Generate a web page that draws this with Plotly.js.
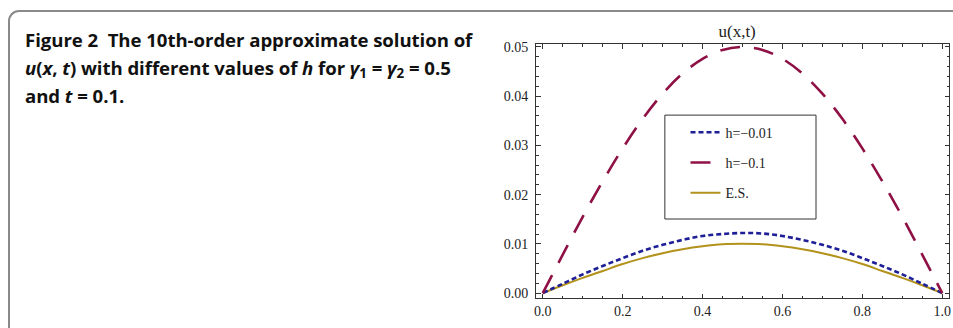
<!DOCTYPE html>
<html>
<head>
<meta charset="utf-8">
<script src="https://cdn.plot.ly/plotly-3.0.1.min.js"></script>
<style>
  html, body { margin:0; padding:0; background:#fff; }
  #wrap { position:relative; width:953px; height:328px; overflow:hidden; background:#fff; }
  #frame { position:absolute; left:8px; top:10px; width:1000px; height:400px;
           border-left:2px solid #8a8a8a; border-top:2px solid #8a8a8a;
           border-top-left-radius:11px; box-sizing:border-box; }
  #caption { position:absolute; left:25px; top:26px; width:470px;
             font-family:"Open Sans", sans-serif; font-weight:700; font-size:18.6px;
             line-height:28px; color:#111; white-space:nowrap; letter-spacing:-0.05px; }
  #caption sub { font-size:0.72em; vertical-align:-0.25em; line-height:0; }
  #chart { position:absolute; left:0; top:0; width:953px; height:328px; }
</style>
</head>
<body>
<div id="wrap">
  <div id="frame"></div>
  <div id="caption">Figure 2&nbsp; The 10th-order approximate solution of<br><i>u</i>(<i>x</i>, <i>t</i>) with different values of <i>h</i> for <i>γ</i><sub>1</sub> = <i>γ</i><sub>2</sub> = 0.5<br>and <i>t</i> = 0.1.</div>
  <div id="chart"></div>
</div>
<script>
// x positions
var xs = [0, 0.05, 0.1, 0.15, 0.2, 0.25, 0.3, 0.35, 0.4, 0.45, 0.5, 0.55, 0.6, 0.65, 0.7, 0.75, 0.8, 0.85, 0.9, 0.95, 1.0];
// h = -0.01
var hSmall = [0, 0.0019, 0.0038, 0.0055, 0.0071, 0.0086, 0.0098, 0.0108, 0.0116, 0.0120, 0.0122, 0.0121, 0.0116, 0.0108, 0.0098, 0.0086, 0.0071, 0.0055, 0.0038, 0.0019, 0];
// h = -0.1
var hLarge = [0, 0.0078, 0.0155, 0.0227, 0.0294, 0.0354, 0.0405, 0.0446, 0.0476, 0.0494, 0.0500, 0.0494, 0.0476, 0.0446, 0.0405, 0.0354, 0.0294, 0.0227, 0.0155, 0.0078, 0];
// exact solution
var exact = [0, 0.0016, 0.0031, 0.0045, 0.0059, 0.0071, 0.0081, 0.0089, 0.0095, 0.0099, 0.0100, 0.0099, 0.0095, 0.0089, 0.0081, 0.0071, 0.0059, 0.0045, 0.0031, 0.0016, 0];
var names = ["h=\u22120.01", "h=\u22120.1", "E.S."];
var xTicks = [0, 0.2, 0.4, 0.6, 0.8, 1.0];
var xTickText = ["0.0", "0.2", "0.4", "0.6", "0.8", "1.0"];
var yTicks = [0, 0.01, 0.02, 0.03, 0.04, 0.05];
var yTickText = ["0.00", "0.01", "0.02", "0.03", "0.04", "0.05"];

var serif = "Liberation Serif";

var traces = [
  {x: xs, y: exact, name: names[2], mode: "lines", legendgroup: "c", legendrank: 3,
   line: {color: "#b3921c", width: 2, shape: "spline"}},
  {x: xs, y: hSmall, name: names[0], mode: "lines", legendgroup: "a", legendrank: 1,
   line: {color: "#1e1e96", width: 2.6, dash: "5px,3px", shape: "spline"}},
  {x: xs, y: hLarge, name: names[1], mode: "lines", legendgroup: "b", legendrank: 2,
   line: {color: "#8e1045", width: 2.6, dash: "20px,14px", shape: "spline"}}
];

var axisCommon = {
  showline: true, linecolor: "#333", linewidth: 1, mirror: "allticks",
  ticks: "inside", ticklen: 4.5, tickwidth: 1, tickcolor: "#333",
  showgrid: false, zeroline: false,
  tickfont: {family: serif, size: 14, color: "#222"}
};

var layout = {
  width: 953, height: 328,
  margin: {l: 536, r: 4, t: 44, b: 30},
  paper_bgcolor: "rgba(0,0,0,0)", plot_bgcolor: "#fff",
  showlegend: true,
  title: {text: "u(x,t)", font: {family: serif, size: 17, color: "#222"},
          xref: "paper", yref: "paper", x: 0.487, xanchor: "center",
          y: 1, yanchor: "bottom", pad: {b: 7}},
  xaxis: Object.assign({}, axisCommon, {
    range: [-0.017, 1.017], tickvals: xTicks, ticktext: xTickText,
    minor: {dtick: 0.05, tick0: 0, ticks: "inside", ticklen: 2.5, tickcolor: "#333"}
  }),
  yaxis: Object.assign({}, axisCommon, {
    range: [-0.001, 0.0506], tickvals: yTicks, ticktext: yTickText,
    ticklabelstandoff: 4,
    minor: {dtick: 0.002, tick0: 0, ticks: "inside", ticklen: 2.5, tickcolor: "#333"}
  }),
  legend: {x: 0.362, y: 0.714, xanchor: "left", yanchor: "top",
           bgcolor: "rgba(0,0,0,0)", borderwidth: 0,
           font: {family: serif, size: 14, color: "#222"},
           tracegroupgap: 9, itemwidth: 30},
  shapes: [
    {type: "rect", xref: "paper", yref: "paper", x0: 0.312, x1: 0.678, y0: 0.311, y1: 0.720,
     line: {color: "#333", width: 1}, fillcolor: "#fff", layer: "below"}
  ]
};

Plotly.newPlot("chart", traces, layout, {staticPlot: true, displayModeBar: false});
</script>
</body>
</html>
